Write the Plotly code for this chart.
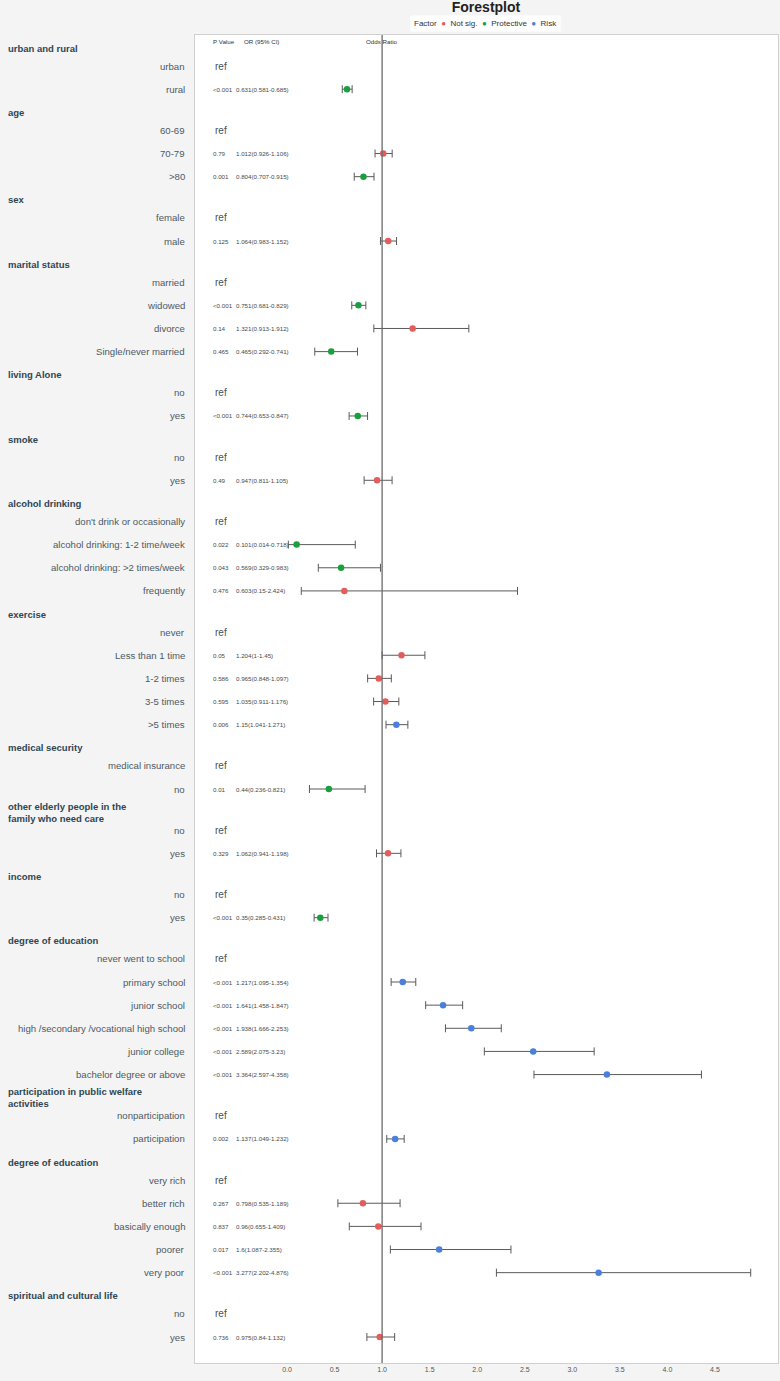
import textwrap
import plotly.graph_objects as go

# ---------------- data ----------------
group_names = [
    "urban and rural", "age", "sex", "marital status", "living Alone", "smoke",
    "alcohol drinking", "exercise", "medical security",
    "other elderly people in the family who need care", "income",
    "degree of education", "participation in public welfare activities",
    "degree of education", "spiritual and cultural life",
]
group_sizes = [2, 3, 2, 4, 2, 2, 4, 5, 2, 2, 2, 6, 2, 5, 2]

item_labels = [
    "urban", "rural",
    "60-69", "70-79", ">80",
    "female", "male",
    "married", "widowed", "divorce", "Single/never married",
    "no", "yes",
    "no", "yes",
    "don't drink or occasionally", "alcohol drinking: 1-2 time/week",
    "alcohol drinking: >2 times/week", "frequently",
    "never", "Less than 1 time", "1-2 times", "3-5 times", ">5 times",
    "medical insurance", "no",
    "no", "yes",
    "no", "yes",
    "never went to school", "primary school", "junior school",
    "high /secondary /vocational high school", "junior college",
    "bachelor degree or above",
    "nonparticipation", "participation",
    "very rich", "better rich", "basically enough", "poorer", "very poor",
    "no", "yes",
]
p_values = [
    "ref", "<0.001",
    "ref", "0.79", "0.001",
    "ref", "0.125",
    "ref", "<0.001", "0.14", "0.465",
    "ref", "<0.001",
    "ref", "0.49",
    "ref", "0.022", "0.043", "0.476",
    "ref", "0.05", "0.586", "0.595", "0.006",
    "ref", "0.01",
    "ref", "0.329",
    "ref", "<0.001",
    "ref", "<0.001", "<0.001", "<0.001", "<0.001", "<0.001",
    "ref", "0.002",
    "ref", "0.267", "0.837", "0.017", "<0.001",
    "ref", "0.736",
]
odds_ratio = [
    None, 0.631,
    None, 1.012, 0.804,
    None, 1.064,
    None, 0.751, 1.321, 0.465,
    None, 0.744,
    None, 0.947,
    None, 0.101, 0.569, 0.603,
    None, 1.204, 0.965, 1.035, 1.15,
    None, 0.44,
    None, 1.062,
    None, 0.35,
    None, 1.217, 1.641, 1.938, 2.589, 3.364,
    None, 1.137,
    None, 0.798, 0.96, 1.6, 3.277,
    None, 0.975,
]
ci_lower = [
    None, 0.581,
    None, 0.926, 0.707,
    None, 0.983,
    None, 0.681, 0.913, 0.292,
    None, 0.653,
    None, 0.811,
    None, 0.014, 0.329, 0.15,
    None, 1.0, 0.848, 0.911, 1.041,
    None, 0.236,
    None, 0.941,
    None, 0.285,
    None, 1.095, 1.458, 1.666, 2.075, 2.597,
    None, 1.049,
    None, 0.535, 0.655, 1.087, 2.202,
    None, 0.84,
]
ci_upper = [
    None, 0.685,
    None, 1.106, 0.915,
    None, 1.152,
    None, 0.829, 1.912, 0.741,
    None, 0.847,
    None, 1.105,
    None, 0.718, 0.983, 2.424,
    None, 1.45, 1.097, 1.176, 1.271,
    None, 0.821,
    None, 1.198,
    None, 0.431,
    None, 1.354, 1.847, 2.253, 3.23, 4.358,
    None, 1.232,
    None, 1.189, 1.409, 2.355, 4.876,
    None, 1.132,
]
factor = [
    None, "Protective",
    None, "Not sig.", "Protective",
    None, "Not sig.",
    None, "Protective", "Not sig.", "Protective",
    None, "Protective",
    None, "Not sig.",
    None, "Protective", "Protective", "Not sig.",
    None, "Not sig.", "Not sig.", "Not sig.", "Risk",
    None, "Protective",
    None, "Not sig.",
    None, "Protective",
    None, "Risk", "Risk", "Risk", "Risk", "Risk",
    None, "Risk",
    None, "Not sig.", "Not sig.", "Risk", "Risk",
    None, "Not sig.",
]
factor_levels = ["Not sig.", "Protective", "Risk"]
x_ticks = [0.0, 0.5, 1.0, 1.5, 2.0, 2.5, 3.0, 3.5, 4.0, 4.5]

# ---------------- style ----------------
colors = {"Not sig.": "#e35d5d", "Protective": "#1a9e3f", "Risk": "#4a80d9"}
FONT = "Liberation Sans, Arial, Helvetica, sans-serif"
W, H = 780, 1381
ML, MR, MT, MB = 195, 2, 35, 18
HEADER_GAP = 0.78

# ---------------- row layout ----------------
header_pos = []
item_pos = []
pos = 0.0
for gi, n in enumerate(group_sizes):
    if gi > 0:
        pos += 1.0
    header_pos.append(pos)
    for k in range(n):
        pos += HEADER_GAP if k == 0 else 1.0
        item_pos.append(pos)
last = pos
px_per_unit = (1337 - 48) / last
y_top = -13 / px_per_unit
y_bot = last + 26 / px_per_unit
plot_w = W - ML - MR
x0_px = 287
px_per_x = 95.1
x_left = (ML - x0_px) / px_per_x
x_right = (W - MR - x0_px) / px_per_x


def px_to_paper(px):
    return (px - ML) / plot_w


def px_to_x(px):
    return (px - x0_px) / px_per_x


fig = go.Figure()

for lvl in factor_levels:
    ids = [i for i, f in enumerate(factor) if f == lvl]
    fig.add_trace(go.Scatter(
        x=[odds_ratio[i] for i in ids],
        y=[item_pos[i] for i in ids],
        mode="markers",
        name=lvl,
        showlegend=False,
        marker=dict(color=colors[lvl], size=6.5),
        error_x=dict(
            type="data", symmetric=False,
            array=[ci_upper[i] - odds_ratio[i] for i in ids],
            arrayminus=[odds_ratio[i] - ci_lower[i] for i in ids],
            color="#5a5a5a", thickness=1, width=4,
        ),
        cliponaxis=False,
    ))

ann = []
# group headers
for name, yp in zip(group_names, header_pos):
    txt = "<br>".join(textwrap.wrap(name, 31))
    ann.append(dict(x=px_to_paper(6), xref="paper", y=yp, yref="y",
                    text="<b>" + txt + "</b>", showarrow=False, xanchor="left",
                    yanchor="middle", align="left",
                    font=dict(family=FONT, size=9.5, color="#2f4653")))
# item labels and value columns
for i, lab in enumerate(item_labels):
    yp = item_pos[i]
    ann.append(dict(x=px_to_paper(187), xref="paper", y=yp, yref="y",
                    text=lab, showarrow=False, xanchor="right", yanchor="middle",
                    font=dict(family=FONT, size=9.6, color="#4d5a64")))
    if p_values[i] == "ref":
        ann.append(dict(x=px_to_x(213), xref="x", y=yp, yref="y", text="ref",
                        showarrow=False, xanchor="left", yanchor="middle",
                        font=dict(family=FONT, size=10, color="#44525c")))
    else:
        ann.append(dict(x=px_to_x(211), xref="x", y=yp, yref="y", text=p_values[i],
                        showarrow=False, xanchor="left", yanchor="middle",
                        font=dict(family=FONT, size=6.2, color="#4a4a4a")))
        ortxt = f"{odds_ratio[i]:g}({ci_lower[i]:g}-{ci_upper[i]:g})"
        ann.append(dict(x=px_to_x(234), xref="x", y=yp, yref="y", text=ortxt,
                        showarrow=False, xanchor="left", yanchor="middle",
                        font=dict(family=FONT, size=6.2, color="#4a4a4a")))

# column headers
hy = (41 - 48) / px_per_unit
ann.append(dict(x=px_to_x(211), xref="x", y=hy, yref="y", text="P Value",
                showarrow=False, xanchor="left", yanchor="middle",
                font=dict(family=FONT, size=6.2, color="#333333")))
ann.append(dict(x=px_to_x(242), xref="x", y=hy, yref="y", text="OR (95% CI)",
                showarrow=False, xanchor="left", yanchor="middle",
                font=dict(family=FONT, size=6.2, color="#333333")))
ann.append(dict(x=1.0, xref="x", y=hy, yref="y", text="Odds Ratio",
                showarrow=False, xanchor="center", yanchor="middle",
                font=dict(family=FONT, size=6.2, color="#333333")))

# legend (compact, drawn as text)
leg = "Factor"
for lvl in factor_levels:
    leg += f"  <span style='color:{colors[lvl]}'>●</span>  {lvl}"
ann.append(dict(x=px_to_paper(485), xref="paper",
                y=(H - MB - 23) / (H - MT - MB), yref="paper",
                text=leg, showarrow=False, xanchor="center", yanchor="middle",
                bgcolor="white", borderpad=3,
                font=dict(family=FONT, size=8, color="#333333")))

fig.update_layout(
    width=W, height=H,
    margin=dict(l=ML, r=MR, t=MT, b=MB),
    paper_bgcolor="#f4f4f4",
    plot_bgcolor="white",
    title=dict(text="<b>Forestplot</b>", x=486 / W, xanchor="center",
               y=1 - 7 / H, yanchor="middle",
               font=dict(family=FONT, size=14, color="#222222")),
    showlegend=False,
    annotations=ann,
    shapes=[dict(type="line", xref="x", yref="paper", x0=1, x1=1, y0=0, y1=1,
                 line=dict(color="#6a6a6a", width=1.3))],
    xaxis=dict(range=[x_left, x_right], tickvals=x_ticks,
               ticktext=[f"{t:.1f}" for t in x_ticks],
               showgrid=False, zeroline=False, ticks="",
               showline=True, mirror=True, linecolor="#d0d0d0", linewidth=1,
               tickfont=dict(family=FONT, size=7, color="#555555")),
    yaxis=dict(range=[y_bot, y_top], showgrid=False, zeroline=False,
               showticklabels=False, ticks="",
               showline=True, mirror=True, linecolor="#d0d0d0", linewidth=1),
)

fig.write_html("out.html")
